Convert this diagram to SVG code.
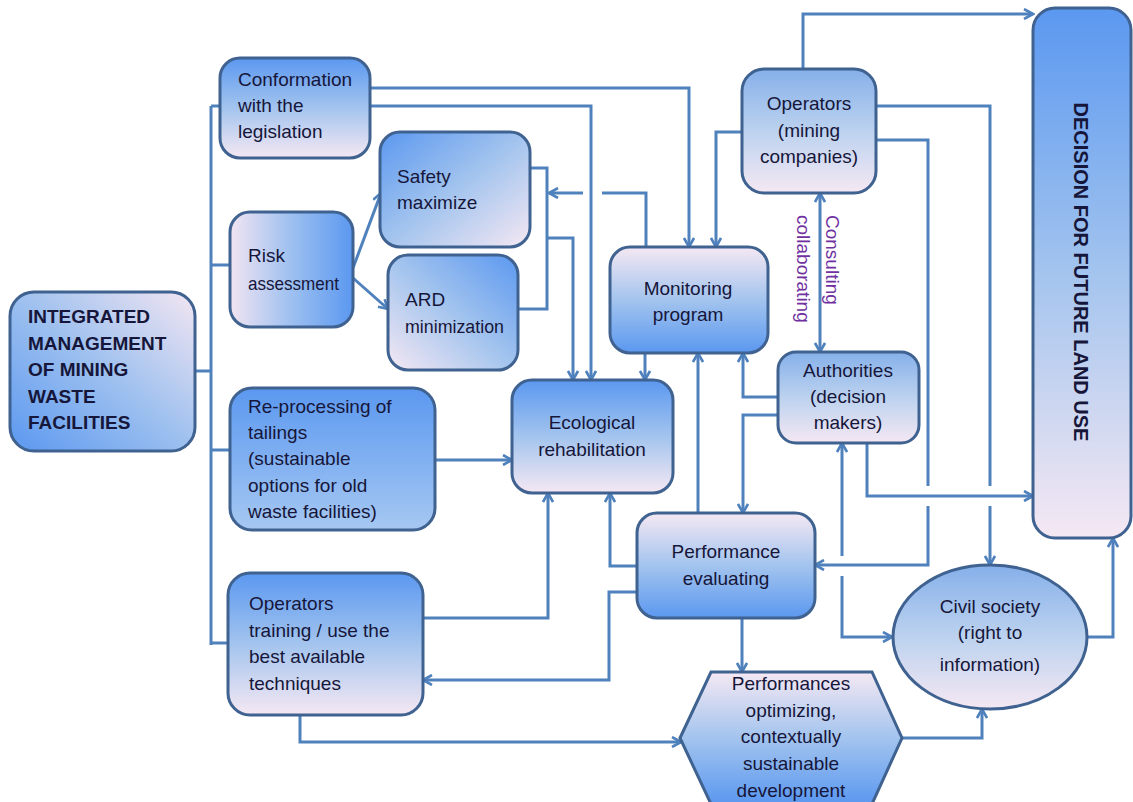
<svg xmlns="http://www.w3.org/2000/svg" width="1133" height="802" viewBox="0 0 1133 802">
<defs>
<linearGradient id="gV" x1="0" y1="0" x2="0" y2="1"><stop offset="0" stop-color="#5b98f0"/><stop offset="0.5" stop-color="#a3c4ee"/><stop offset="1" stop-color="#f5e8f3"/></linearGradient>
<linearGradient id="gVl" x1="0" y1="0" x2="0" y2="1"><stop offset="0" stop-color="#86b0ea"/><stop offset="0.5" stop-color="#bcd2ef"/><stop offset="1" stop-color="#f5e8f3"/></linearGradient>
<linearGradient id="gVr" x1="0" y1="0" x2="0" y2="1"><stop offset="0" stop-color="#f5e8f3"/><stop offset="0.5" stop-color="#a3c4ee"/><stop offset="1" stop-color="#5b98f0"/></linearGradient>
<linearGradient id="gH" x1="0" y1="0" x2="1" y2="0"><stop offset="0" stop-color="#f2e4f2"/><stop offset="0.5" stop-color="#9dc0f0"/><stop offset="1" stop-color="#5b98f0"/></linearGradient>
<linearGradient id="gD1" x1="0" y1="0" x2="1" y2="1"><stop offset="0" stop-color="#5b98f0"/><stop offset="0.5" stop-color="#a3c4ee"/><stop offset="1" stop-color="#f5e8f3"/></linearGradient>
<linearGradient id="gD2" x1="0" y1="1" x2="1" y2="0"><stop offset="0" stop-color="#f5e8f3"/><stop offset="0.5" stop-color="#a3c4ee"/><stop offset="1" stop-color="#5b98f0"/></linearGradient>
<linearGradient id="gD3" x1="1" y1="0" x2="0" y2="1"><stop offset="0" stop-color="#f3e6f2"/><stop offset="0.5" stop-color="#9dc0ef"/><stop offset="1" stop-color="#5b98f0"/></linearGradient>
<linearGradient id="gB" x1="0" y1="0" x2="0" y2="1"><stop offset="0" stop-color="#5b98f0"/><stop offset="1" stop-color="#a6c8f2"/></linearGradient>
<marker id="ah" viewBox="0 0 12 12" refX="10.5" refY="6" markerWidth="12" markerHeight="12" markerUnits="userSpaceOnUse" orient="auto-start-reverse">
<path d="M1.5,1 L10.5,6 L1.5,11" fill="none" stroke="#4f81bd" stroke-width="2.6"/>
</marker>
<style>
.n{stroke:#3f6290;stroke-width:3}
.t{font-family:"Liberation Sans",Arial,sans-serif;font-size:19px;fill:#16163a}
.c{text-anchor:middle}
.b{font-weight:bold}
.lbl{font-family:"Liberation Sans",Arial,sans-serif;font-size:19px;fill:#7030a0}
#connectors path{fill:none;stroke:#4f81bd;stroke-width:3}
.a{marker-end:url(#ah)}
</style>
</defs>
<rect width="1133" height="802" fill="#ffffff"/>

<g id="connectors">
<path d="M195,371 H211"/>
<path d="M211,106 V645"/>
<path d="M211,106 H220"/>
<path d="M211,265 H230"/>
<path d="M211,450 H230"/>
<path d="M211,643 H228"/>
<path class="a" d="M353,268 L381,193"/>
<path class="a" d="M353,278 L388,309"/>
<path class="a" d="M370,88 H689 V247"/>
<path class="a" d="M370,106 H591 V380"/>
<path d="M530,168 H547 V309 H518"/>
<path class="a" d="M547,238 H573 V380"/>
<path d="M646,247 V193 H602"/>
<path class="a" d="M583,193 H549"/>
<path class="a" d="M645,353 V380"/>
<path class="a" d="M742,132 H716 V247"/>
<path class="a" d="M803,69 V14 H1033"/>
<path d="M876,106 H990 V486"/>
<path class="a" d="M990,506 V565"/>
<path d="M876,140 H928 V486"/>
<path class="a" d="M928,506 V565 H815"/>
<path class="a" d="M820,193 V352" style="marker-start:url(#ah)"/>
<path class="a" d="M778,397 H743 V353"/>
<path class="a" d="M778,415 H743 V513"/>
<path class="a" d="M867,443 V496 H1033"/>
<path class="a" d="M842,556 V443"/>
<path class="a" d="M842,576 V637 H892"/>
<path class="a" d="M1087,637 H1113 V538"/>
<path class="a" d="M742,618 V672"/>
<path class="a" d="M902,738 H982 V709"/>
<path class="a" d="M300,715 V742 H681"/>
<path class="a" d="M637,592 H609 V680 H423"/>
<path class="a" d="M423,618 H548 V493"/>
<path class="a" d="M637,566 H610 V493"/>
<path class="a" d="M698,513 V353"/>
<path class="a" d="M435,460 H512"/>
</g>

<g id="lbl-consult">
<text class="lbl" transform="translate(826,215) rotate(90)">Consulting</text>
<text class="lbl" transform="translate(797,215) rotate(90)">collaborating</text>
</g>

<g id="integrated">
<rect class="n" x="10" y="292" width="185" height="159" rx="24" fill="url(#gD3)"/>
<text class="t b" x="28" y="323">INTEGRATED</text>
<text class="t b" x="28" y="349.5">MANAGEMENT</text>
<text class="t b" x="28" y="376">OF MINING</text>
<text class="t b" x="28" y="402.5">WASTE</text>
<text class="t b" x="28" y="429">FACILITIES</text>
</g>

<g id="conformation">
<rect class="n" x="220" y="58" width="150" height="100" rx="20" fill="url(#gV)"/>
<text class="t" x="238" y="86">Conformation</text>
<text class="t" x="238" y="112">with the</text>
<text class="t" x="238" y="138">legislation</text>
</g>

<g id="risk">
<rect class="n" x="230" y="212" width="123" height="115" rx="20" fill="url(#gH)"/>
<text class="t" x="248" y="262">Risk</text>
<text class="t" x="248" y="290" textLength="91" lengthAdjust="spacingAndGlyphs">assessment</text>
</g>

<g id="safety">
<rect class="n" x="380" y="132" width="150" height="115" rx="20" fill="url(#gD1)"/>
<text class="t" x="397" y="183">Safety</text>
<text class="t" x="397" y="209">maximize</text>
</g>

<g id="ard">
<rect class="n" x="388" y="255" width="130" height="115" rx="20" fill="url(#gD2)"/>
<text class="t" x="405" y="306">ARD</text>
<text class="t" x="405" y="333" textLength="99" lengthAdjust="spacingAndGlyphs">minimization</text>
</g>

<g id="reprocessing">
<rect class="n" x="230" y="388" width="205" height="142" rx="22" fill="url(#gB)"/>
<text class="t" x="248" y="413">Re-processing of</text>
<text class="t" x="248" y="439">tailings</text>
<text class="t" x="248" y="465">(sustainable</text>
<text class="t" x="248" y="492">options for old</text>
<text class="t" x="248" y="518">waste facilities)</text>
</g>

<g id="training">
<rect class="n" x="228" y="573" width="195" height="142" rx="22" fill="url(#gV)"/>
<text class="t" x="249" y="610">Operators</text>
<text class="t" x="249" y="637">training / use the</text>
<text class="t" x="249" y="663">best available</text>
<text class="t" x="249" y="690">techniques</text>
</g>

<g id="ecological">
<rect class="n" x="512" y="380" width="161" height="113" rx="20" fill="url(#gV)"/>
<text class="t c" x="592" y="429">Ecological</text>
<text class="t c" x="592" y="456">rehabilitation</text>
</g>

<g id="monitoring">
<rect class="n" x="610" y="247" width="158" height="106" rx="20" fill="url(#gVr)"/>
<text class="t c" x="688" y="295">Monitoring</text>
<text class="t c" x="688" y="321">program</text>
</g>

<g id="operators">
<rect class="n" x="742" y="69" width="134" height="124" rx="22" fill="url(#gVl)"/>
<text class="t c" x="809" y="110">Operators</text>
<text class="t c" x="809" y="137">(mining</text>
<text class="t c" x="809" y="163">companies)</text>
</g>

<g id="authorities">
<rect class="n" x="778" y="352" width="141" height="91" rx="18" fill="url(#gVl)"/>
<text class="t c" x="848" y="377">Authorities</text>
<text class="t c" x="848" y="403">(decision</text>
<text class="t c" x="848" y="429">makers)</text>
</g>

<g id="performance">
<rect class="n" x="637" y="513" width="178" height="105" rx="20" fill="url(#gVr)"/>
<text class="t c" x="726" y="558">Performance</text>
<text class="t c" x="726" y="585">evaluating</text>
</g>

<g id="optimizing">
<polygon class="n" points="680,738 711,672 872,672 902,738 872,804 711,804" fill="url(#gVr)"/>
<text class="t c" x="791" y="690">Performances</text>
<text class="t c" x="791" y="717">optimizing,</text>
<text class="t c" x="791" y="743">contextually</text>
<text class="t c" x="791" y="770">sustainable</text>
<text class="t c" x="791" y="797">development</text>
</g>

<g id="civil">
<ellipse class="n" cx="990" cy="637" rx="97" ry="72" fill="url(#gVl)"/>
<text class="t c" x="990" y="613">Civil society</text>
<text class="t c" x="990" y="639">(right to</text>
<text class="t c" x="990" y="671">information)</text>
</g>

<g id="decision">
<rect class="n" x="1033" y="8" width="98" height="530" rx="22" fill="url(#gV)"/>
<text class="t b c" style="font-size:20px" transform="translate(1081,272) rotate(90)" y="7">DECISION FOR FUTURE LAND USE</text>
</g>
</svg>
